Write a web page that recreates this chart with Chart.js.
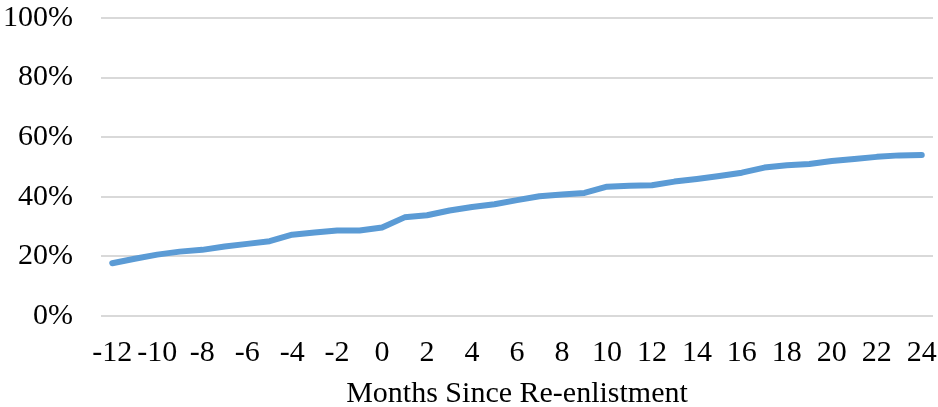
<!DOCTYPE html>
<html>
<head>
<meta charset="utf-8">
<script src="https://cdn.jsdelivr.net/npm/chart.js@4"></script>
<style>
  html, body { margin: 0; padding: 0; background: #fff; }
  #wrap { width: 938px; height: 407px; position: relative; }
</style>
</head>
<body>
<div id="wrap"><canvas id="reenlistChart"></canvas></div>
<script>
/* ------------------------------- Chart data ------------------------------- */
const months = [
  -12, -11, -10, -9, -8, -7, -6, -5, -4, -3, -2, -1, 0, 1, 2, 3, 4, 5, 6,
  7, 8, 9, 10, 11, 12, 13, 14, 15, 16, 17, 18, 19, 20, 21, 22, 23, 24,
];
const shares = [
  17.7, 19.2, 20.6, 21.6, 22.2, 23.3, 24.2, 25.1, 27.3, 28.0, 28.7, 28.7,
  29.7, 33.1, 33.8, 35.4, 36.6, 37.5, 38.9, 40.2, 40.8, 41.3, 43.4, 43.7,
  43.9, 45.1, 46.0, 47.0, 48.1, 49.8, 50.6, 51.0, 52.0, 52.7, 53.4, 53.9, 54.0,
];
const yTicks = [0, 20, 40, 60, 80, 100];

const serif = "'Liberation Serif', 'DejaVu Serif', serif";
const hidden = "rgba(0,0,0,0)";

/* ------------------------------- Line chart ------------------------------- */
const ctx = document.getElementById("reenlistChart").getContext("2d");
new Chart(ctx, {
  type: "line",
  data: {
    labels: months,
    datasets: [
      {
        data: shares,
        borderColor: "#5B9BD5",
        borderWidth: 6,
        borderCapStyle: "round",
        borderJoinStyle: "round",
        pointRadius: 0,
        tension: 0,
        fill: false,
      },
    ],
  },
  options: {
    responsive: true,
    maintainAspectRatio: false,
    animation: false,
    layout: {
      padding: { top: 18, right: 5, bottom: 0, left: 0 },
    },
    plugins: {
      legend: { display: false },
      tooltip: { enabled: false },
    },
    scales: {
      x: {
        type: "category",
        offset: true,
        // invisible tick marks keep the labels clear of the plot
        grid: {
          color: hidden,
          tickColor: hidden,
          drawTicks: true,
          tickLength: 19,
        },
        border: { display: false },
        ticks: {
          autoSkip: false,
          maxRotation: 0,
          minRotation: 0,
          padding: 0,
          color: "#000",
          font: { family: serif, size: 30 },
          callback: function (value, index) {
            const m = months[index];
            return m % 2 === 0 ? String(m) : "";
          },
        },
        title: {
          display: true,
          text: "Months Since Re-enlistment",
          color: "#000",
          font: { family: serif, size: 30, lineHeight: 0.85 },
          padding: { top: 0, bottom: 0 },
        },
        afterFit: (scale) => {
          scale.height = 91;
        },
      },
      y: {
        min: 0,
        max: 100,
        afterBuildTicks: (scale) => {
          scale.ticks = yTicks.map((v) => ({ value: v }));
        },
        grid: {
          color: "#D9D9D9",
          lineWidth: 2,
          drawTicks: true,
          tickLength: 28,
          tickColor: hidden,
        },
        border: { display: false },
        ticks: {
          padding: 0,
          color: "#000",
          font: { family: serif, size: 30 },
          callback: (v) => v + "%",
        },
        afterFit: (scale) => {
          scale.width = 101;
        },
      },
    },
  },
});
</script>
</body>
</html>
